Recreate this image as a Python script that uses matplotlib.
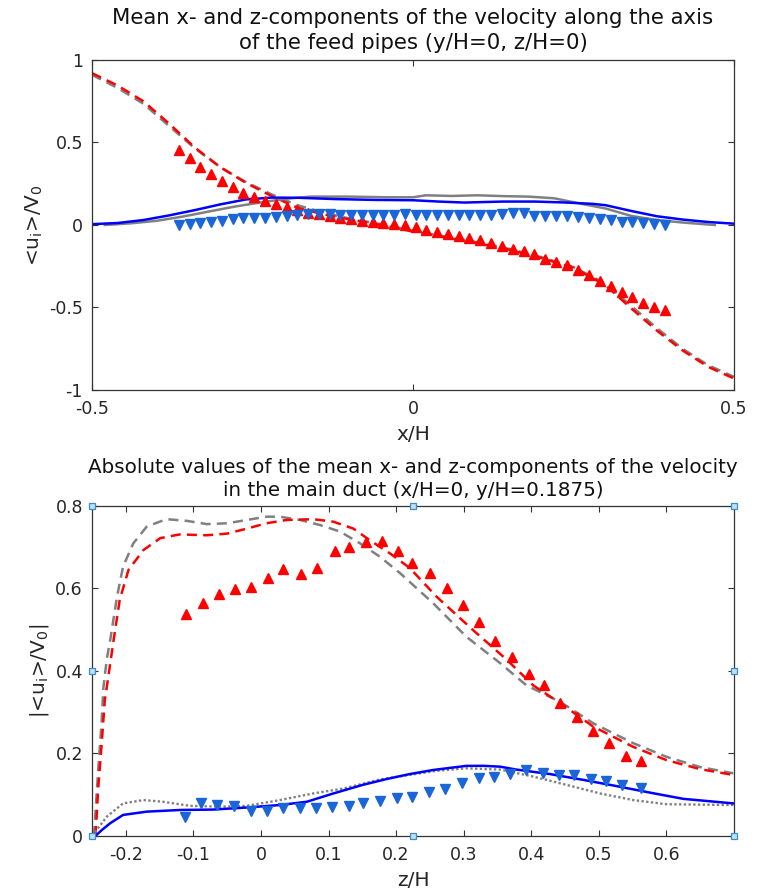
import matplotlib
matplotlib.use("Agg")
import matplotlib.pyplot as plt

plt.rcParams['font.family'] = ['DejaVu Sans']

# ---------------- Top panel data (x/H) ----------------
top_red_dash_x = [-0.5, -0.46, -0.42, -0.38, -0.34, -0.30, -0.26, -0.22, -0.18, -0.14, -0.10, -0.05,
                  0.0, 0.05, 0.10, 0.15, 0.20, 0.25, 0.30, 0.34, 0.38, 0.42, 0.46, 0.5]
top_red_dash_y = [0.92, 0.845, 0.75, 0.615, 0.47, 0.35, 0.255, 0.175, 0.105, 0.065, 0.035, 0.0,
                  -0.04, -0.075, -0.11, -0.15, -0.2, -0.26, -0.365, -0.505, -0.64, -0.76, -0.86, -0.93]
top_gray_dash_y = [0.91, 0.83, 0.735, 0.6, 0.465, 0.35, 0.26, 0.185, 0.12, 0.075, 0.04, 0.005,
                   -0.035, -0.07, -0.105, -0.145, -0.195, -0.255, -0.355, -0.49, -0.625, -0.75, -0.85, -0.92]

top_blue_line_x = [-0.5, -0.46, -0.42, -0.38, -0.34, -0.30, -0.26, -0.22, -0.18, -0.12, -0.06, 0.0,
                   0.04, 0.08, 0.14, 0.19, 0.24, 0.28, 0.30, 0.34, 0.38, 0.42, 0.46, 0.5]
top_blue_line_y = [0.005, 0.012, 0.03, 0.058, 0.09, 0.125, 0.155, 0.166, 0.165, 0.157, 0.152, 0.15,
                   0.142, 0.136, 0.142, 0.142, 0.136, 0.128, 0.12, 0.085, 0.053, 0.033, 0.018, 0.008]

top_gray_line_x = [-0.48, -0.44, -0.40, -0.36, -0.32, -0.28, -0.24, -0.20, -0.16, -0.10, -0.04, 0.0,
                   0.02, 0.06, 0.10, 0.14, 0.18, 0.22, 0.26, 0.30, 0.34, 0.38, 0.42, 0.47]
top_gray_line_y = [0.0, 0.01, 0.025, 0.05, 0.08, 0.11, 0.135, 0.158, 0.172, 0.172, 0.168, 0.168,
                   0.18, 0.176, 0.18, 0.175, 0.172, 0.162, 0.13, 0.1, 0.055, 0.03, 0.015, 0.0]

top_exp_x = [-0.365, -0.348, -0.331, -0.315, -0.298, -0.281, -0.264, -0.247, -0.230, -0.213,
             -0.197, -0.180, -0.163, -0.147, -0.130, -0.113, -0.096, -0.080, -0.063, -0.046,
             -0.029, -0.012, 0.004, 0.021, 0.038, 0.055, 0.072, 0.088, 0.105, 0.122,
             0.139, 0.156, 0.173, 0.189, 0.206, 0.223, 0.240, 0.257, 0.274, 0.291,
             0.308, 0.325, 0.341, 0.358, 0.375, 0.392]
top_exp_red = [0.455, 0.404, 0.354, 0.307, 0.269, 0.232, 0.196, 0.172, 0.147, 0.127,
               0.111, 0.091, 0.075, 0.068, 0.055, 0.045, 0.035, 0.025, 0.018, 0.012,
               0.005, 0.0, -0.012, -0.030, -0.045, -0.055, -0.065, -0.078, -0.093, -0.110,
               -0.125, -0.145, -0.160, -0.176, -0.205, -0.225, -0.242, -0.273, -0.303, -0.340,
               -0.370, -0.404, -0.438, -0.470, -0.499, -0.515]
top_exp_blue = [0.0, 0.005, 0.013, 0.02, 0.027, 0.034, 0.04, 0.04, 0.045, 0.05,
                0.056, 0.06, 0.068, 0.068, 0.065, 0.062, 0.063, 0.062, 0.062, 0.063,
                0.062, 0.066, 0.06, 0.06, 0.06, 0.058, 0.058, 0.06, 0.06, 0.06,
                0.066, 0.07, 0.07, 0.056, 0.056, 0.056, 0.056, 0.05, 0.044, 0.034,
                0.03, 0.02, 0.016, 0.014, 0.006, 0.0]

# ---------------- Bottom panel data (z/H) ----------------
bot_gray_dash_x = [-0.247, -0.244, -0.240, -0.236, -0.233, -0.228, -0.223, -0.213, -0.204, -0.189,
                   -0.169, -0.14, -0.11, -0.08, -0.05, -0.021, 0.008, 0.028, 0.058, 0.087,
                   0.117, 0.147, 0.176, 0.206, 0.255, 0.304, 0.354, 0.393, 0.443, 0.492,
                   0.551, 0.6, 0.65, 0.699]
bot_gray_dash_y = [0.0, 0.08, 0.18, 0.27, 0.362, 0.43, 0.475, 0.58, 0.653, 0.709,
                   0.75, 0.768, 0.764, 0.756, 0.758, 0.766, 0.774, 0.774, 0.766, 0.754,
                   0.738, 0.709, 0.677, 0.637, 0.564, 0.483, 0.419, 0.365, 0.325, 0.273,
                   0.225, 0.192, 0.167, 0.152]

bot_red_dash_x = [-0.245, -0.243, -0.241, -0.236, -0.231, -0.228, -0.218, -0.209, -0.196, -0.174,
                  -0.149, -0.12, -0.08, -0.05, -0.021, 0.008, 0.038, 0.077, 0.107, 0.137,
                  0.161, 0.191, 0.22, 0.26, 0.314, 0.364, 0.403, 0.443, 0.492, 0.551,
                  0.6, 0.65, 0.699]
bot_red_dash_y = [0.0, 0.05, 0.111, 0.216, 0.33, 0.362, 0.475, 0.572, 0.645, 0.693,
                  0.722, 0.731, 0.729, 0.733, 0.745, 0.758, 0.766, 0.768, 0.762, 0.745,
                  0.717, 0.685, 0.65, 0.58, 0.499, 0.427, 0.365, 0.322, 0.265, 0.216,
                  0.184, 0.162, 0.148]

bot_blue_line_x = [-0.245, -0.235, -0.223, -0.204, -0.169, -0.12, -0.071, -0.021, 0.028, 0.068,
                   0.107, 0.151, 0.186, 0.22, 0.255, 0.304, 0.33, 0.354, 0.378, 0.428,
                   0.477, 0.526, 0.576, 0.625, 0.699]
bot_blue_line_y = [0.0, 0.015, 0.031, 0.051, 0.059, 0.063, 0.064, 0.069, 0.075, 0.083,
                   0.103, 0.124, 0.138, 0.15, 0.16, 0.17, 0.17, 0.168, 0.161, 0.15,
                   0.136, 0.121, 0.105, 0.09, 0.079]

bot_gray_dot_x = [-0.25, -0.228, -0.204, -0.174, -0.145, -0.105, -0.061, -0.021, 0.028, 0.077,
                  0.122, 0.176, 0.22, 0.26, 0.304, 0.354, 0.403, 0.452, 0.502, 0.551,
                  0.6, 0.699]
bot_gray_dot_y = [0.0, 0.047, 0.079, 0.087, 0.083, 0.073, 0.071, 0.073, 0.087, 0.103,
                  0.115, 0.137, 0.148, 0.158, 0.164, 0.161, 0.144, 0.124, 0.103, 0.087,
                  0.077, 0.075]

bot_exp_red_x = [-0.111, -0.085, -0.062, -0.038, -0.014, 0.011, 0.033, 0.059, 0.083, 0.11,
                 0.131, 0.155, 0.179, 0.203, 0.224, 0.25, 0.275, 0.299, 0.322, 0.346,
                 0.371, 0.396, 0.419, 0.443, 0.467, 0.491, 0.515, 0.54, 0.562]
bot_exp_red_y = [0.538, 0.564, 0.587, 0.598, 0.603, 0.625, 0.647, 0.636, 0.65, 0.691,
                 0.701, 0.713, 0.715, 0.691, 0.661, 0.638, 0.6, 0.56, 0.518, 0.473,
                 0.435, 0.392, 0.366, 0.323, 0.288, 0.255, 0.225, 0.194, 0.182]

bot_exp_blue_x = [-0.112, -0.089, -0.065, -0.04, -0.015, 0.009, 0.033, 0.058, 0.081, 0.105,
                  0.131, 0.151, 0.176, 0.201, 0.224, 0.249, 0.273, 0.298, 0.322, 0.345,
                  0.369, 0.392, 0.417, 0.441, 0.464, 0.488, 0.511, 0.535, 0.562]
bot_exp_blue_y = [0.045, 0.079, 0.074, 0.073, 0.061, 0.061, 0.067, 0.067, 0.067, 0.071,
                  0.073, 0.079, 0.086, 0.091, 0.094, 0.107, 0.113, 0.129, 0.141, 0.142,
                  0.15, 0.16, 0.153, 0.149, 0.148, 0.139, 0.133, 0.124, 0.117]

top_xticks = [-0.5, 0, 0.5]
top_yticks = [-1, -0.5, 0, 0.5, 1]
bot_xticks = [-0.2, -0.1, 0, 0.1, 0.2, 0.3, 0.4, 0.5, 0.6]
bot_yticks = [0, 0.2, 0.4, 0.6, 0.8]

# ---------------- Styles ----------------
RED = '#ff0000'
GRAY = '#808080'
BLUE = '#0000ff'
TRI_BLUE = '#1a66d9'
AXC = '#333333'
TXT = '#262626'
LW = 1.8
DASH = (0, (4, 2.5))
MS = 7
TICK_FS = 12.5
LABEL_FS = 14.5


def style_axes(ax):
    for s in ax.spines.values():
        s.set_color(AXC)
        s.set_linewidth(0.9)
    ax.tick_params(direction='in', top=True, right=True, colors=AXC,
                   labelcolor=TXT, labelsize=TICK_FS, length=4)
    ax.tick_params(axis='x', pad=7)
    ax.tick_params(axis='y', pad=6.5)


fig = plt.figure(figsize=(7.59, 8.90), dpi=100)

# ---- Top ----
ax1 = fig.add_axes([0.1212, 0.5618, 0.8458, 0.3708])
ax1.plot(top_red_dash_x, top_gray_dash_y, color=GRAY, lw=LW, linestyle=DASH)
ax1.plot(top_red_dash_x, top_red_dash_y, color=RED, lw=LW, linestyle=DASH)
ax1.plot(top_gray_line_x, top_gray_line_y, color=GRAY, lw=LW)
ax1.plot(top_blue_line_x, top_blue_line_y, color=BLUE, lw=LW)
ax1.plot(top_exp_x, top_exp_red, linestyle='none', marker='^', ms=MS, color=RED)
ax1.plot(top_exp_x, top_exp_blue, linestyle='none', marker='v', ms=MS, color=TRI_BLUE)
ax1.set_xlim(-0.5, 0.5)
ax1.set_ylim(-1, 1)
ax1.set_xticks(top_xticks)
ax1.set_xticklabels(['-0.5', '0', '0.5'])
ax1.set_yticks(top_yticks)
ax1.set_yticklabels(['-1', '-0.5', '0', '0.5', '1'])
style_axes(ax1)
ax1.set_xlabel('x/H', fontsize=LABEL_FS, color=TXT, labelpad=5)
ax1.set_ylabel(r'<u$_\mathrm{i}$>/V$_0$', fontsize=LABEL_FS, color=TXT, labelpad=3)
ax1.set_title('Mean x- and z-components of the velocity along the axis\nof the feed pipes (y/H=0, z/H=0)',
              fontsize=15.3, color='#111111', pad=8, linespacing=1.3)

# ---- Bottom ----
ax2 = fig.add_axes([0.1212, 0.0607, 0.8458, 0.3708])
ax2.plot(bot_gray_dash_x, bot_gray_dash_y, color=GRAY, lw=LW, linestyle=DASH)
ax2.plot(bot_red_dash_x, bot_red_dash_y, color=RED, lw=LW, linestyle=DASH)
ax2.plot(bot_gray_dot_x, bot_gray_dot_y, color=GRAY, lw=1.7, linestyle=(0, (1, 1)))
ax2.plot(bot_blue_line_x, bot_blue_line_y, color=BLUE, lw=LW)
ax2.plot(bot_exp_red_x, bot_exp_red_y, linestyle='none', marker='^', ms=MS, color=RED)
ax2.plot(bot_exp_blue_x, bot_exp_blue_y, linestyle='none', marker='v', ms=MS, color=TRI_BLUE)
ax2.set_xlim(-0.25, 0.7)
ax2.set_ylim(0, 0.8)
ax2.set_xticks(bot_xticks)
ax2.set_xticklabels(['-0.2', '-0.1', '0', '0.1', '0.2', '0.3', '0.4', '0.5', '0.6'])
ax2.set_yticks(bot_yticks)
ax2.set_yticklabels(['0', '0.2', '0.4', '0.6', '0.8'])
style_axes(ax2)
ax2.set_xlabel('z/H', fontsize=LABEL_FS, color=TXT, labelpad=5)
ax2.set_ylabel(r'|<u$_\mathrm{i}$>/V$_0$|', fontsize=LABEL_FS, color=TXT, labelpad=3)
ax2.set_title('Absolute values of the mean x- and z-components of the velocity\nin the main duct (x/H=0, y/H=0.1875)',
              fontsize=14.3, color='#111111', pad=7, linespacing=1.3)

# selection handles (small squares) around the bottom axes
hx = [-0.25, 0.225, 0.7, -0.25, 0.7, -0.25, 0.225, 0.7]
hy = [0.8, 0.8, 0.8, 0.4, 0.4, 0.0, 0.0, 0.0]
ax2.plot(hx, hy, linestyle='none', marker='s', ms=4.5, mfc='#bfe0f5', mec='#3a8ccc',
         mew=0.9, clip_on=False, zorder=10)

fig.savefig('out.png', dpi=100)
